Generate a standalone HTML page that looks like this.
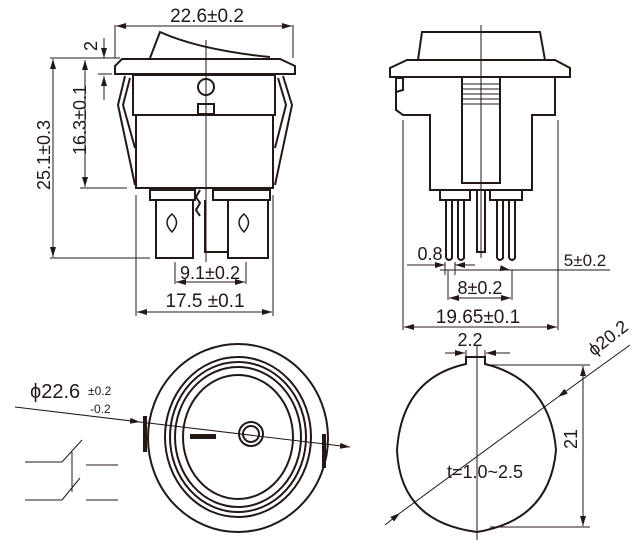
<!DOCTYPE html>
<html><head><style>
body{margin:0;background:#fff}
svg{display:block}
text{font-family:"Liberation Sans",sans-serif;fill:#231815}
</style></head><body>
<svg width="643" height="542" viewBox="0 0 643 542" xmlns="http://www.w3.org/2000/svg">
<defs>
<marker id="a" viewBox="0 0 10 6" refX="10" refY="3" markerWidth="10" markerHeight="6" orient="auto-start-reverse" markerUnits="userSpaceOnUse"><path d="M0,0L10,3L0,6z" fill="#231815"/></marker>
</defs>
<g stroke="#231815" fill="none" stroke-width="1">
<line x1="115" y1="25" x2="115" y2="58"/><line x1="293" y1="25" x2="293" y2="58"/>
<line x1="116" y1="26" x2="292" y2="26" marker-start="url(#a)" marker-end="url(#a)"/>
<line x1="206" y1="40" x2="206" y2="262"/>
<g stroke-width="2">
<path d="M150,58 L160,32 Q200,50 270,57"/>
<path d="M122,59 L280,59 L295,66 L295,74 L115,74 L115,66 Z"/>
<rect x="133" y="75" width="142" height="40"/>
<rect x="136" y="115" width="137" height="73"/>
<path d="M125,76 L118,105 L135,185 M130,78 L123,105 L135,148"/>
<path d="M283,76 L292,105 L275,185 M278,78 L286,105 L275,148"/>
<circle cx="206" cy="87" r="8"/>
<rect x="198" y="104" width="16" height="10"/>
<rect x="150" y="190" width="45" height="10"/>
<rect x="213" y="190" width="57" height="10"/>
<path d="M156,200 L156,258 L193,258 L193,200"/>
<path d="M205,200 L205,252 L228,252"/>
<path d="M228,200 L228,258 L268,258 L268,200"/>
<path d="M200,190 L196,197 L200,203 L196,210 L200,216"/>
<path d="M172,232 Q162,222 172,214 Q181,222 172,232 Z" stroke-width="1.5"/>
<path d="M244,232 Q234,222 244,214 Q253,222 244,232 Z" stroke-width="1.5"/>
</g>
<line x1="104" y1="38" x2="104" y2="58" marker-end="url(#a)"/>
<line x1="104" y1="100" x2="104" y2="76" marker-end="url(#a)"/>
<line x1="98" y1="74" x2="112" y2="74"/>
<line x1="50" y1="58" x2="120" y2="58"/>
<line x1="80" y1="188" x2="127" y2="188"/>
<line x1="50" y1="258" x2="150" y2="258"/>
<line x1="85" y1="60" x2="85" y2="187" marker-start="url(#a)" marker-end="url(#a)"/>
<line x1="53" y1="59" x2="53" y2="257" marker-start="url(#a)" marker-end="url(#a)"/>
<line x1="175" y1="262" x2="175" y2="284"/><line x1="246" y1="262" x2="246" y2="284"/>
<line x1="176" y1="282" x2="245" y2="282" marker-start="url(#a)" marker-end="url(#a)"/>
<line x1="136" y1="195" x2="136" y2="316"/><line x1="273" y1="195" x2="273" y2="316"/>
<line x1="137" y1="312" x2="272" y2="312" marker-start="url(#a)" marker-end="url(#a)"/>
<line x1="481" y1="25" x2="481" y2="258"/>
<g stroke-width="2">
<path d="M418,60 L422,32 L540,32 L545,60"/>
<path d="M407,60 L555,60 L570,68 L570,77 L390,77 L390,68 Z"/>
<path d="M396,77 L396,110 L403,115 L430,115 L430,190 L532,190 L532,115 L555,115 L555,77"/>
<path d="M396,78 L403,78 L403,90 L396,92"/>
<rect x="462" y="77" width="38" height="106"/>
<rect x="440" y="190" width="30" height="10"/>
<rect x="490" y="190" width="32" height="10"/>
<path d="M446,200 V258 M452,200 V258 Q449,262 446,258 M458,200 V258 M464,200 V258 Q461,262 458,258"/>
<path d="M497,200 V258 M503,200 V258 Q500,262 497,258 M509,200 V258 M515,200 V258 Q512,262 509,258"/>
<path d="M477,190 V252 H485 V190"/>
</g>
<path d="M462,84H500M462,89H500M462,94H500M462,99H500M462,104H500"/>
<line x1="403" y1="120" x2="403" y2="330"/><line x1="558" y1="120" x2="558" y2="330"/>
<line x1="404" y1="327" x2="557" y2="327" marker-start="url(#a)" marker-end="url(#a)"/>
<line x1="407" y1="265" x2="445" y2="265" marker-end="url(#a)"/>
<line x1="475" y1="265" x2="455" y2="265" marker-end="url(#a)"/>
<line x1="445" y1="262" x2="445" y2="275"/><line x1="455" y1="262" x2="455" y2="275"/>
<line x1="440" y1="270" x2="610" y2="270"/>
<line x1="500" y1="268" x2="510" y2="270" marker-end="url(#a)"/>
<line x1="448" y1="270" x2="448" y2="300"/><line x1="512" y1="270" x2="512" y2="300"/>
<line x1="449" y1="298" x2="511" y2="298" marker-start="url(#a)" marker-end="url(#a)"/>
<line x1="25" y1="462" x2="62" y2="462"/><line x1="62" y1="462" x2="82" y2="440"/>
<line x1="25" y1="500" x2="62" y2="500"/><line x1="62" y1="500" x2="80" y2="478"/>
<line x1="72" y1="452" x2="72" y2="492"/>
<line x1="86" y1="465" x2="118" y2="465"/><line x1="86" y1="500" x2="118" y2="500"/>
<line x1="15" y1="407" x2="140" y2="422" marker-end="url(#a)"/>
<line x1="140" y1="422" x2="350" y2="447" marker-end="url(#a)"/>
<g stroke-width="2">
<ellipse cx="238" cy="438" rx="90" ry="94"/>
<ellipse cx="238" cy="437" rx="73" ry="80"/>
<ellipse cx="238" cy="437" rx="68" ry="75"/>
<ellipse cx="238" cy="437" rx="63" ry="70"/>
<ellipse cx="238" cy="437" rx="55" ry="62"/>
<circle cx="251" cy="434" r="12"/>
<circle cx="251" cy="434" r="8"/>
</g>
<rect x="190" y="434" width="26" height="5" fill="#231815" stroke="none"/>
<rect x="143" y="416" width="4" height="36" fill="#231815" stroke="none"/>
<rect x="322" y="434" width="4" height="34" fill="#231815" stroke="none"/>
<path d="M466,364 L466,357 L485,357 L485,364 Q550,380 556,450 Q550,520 477,532 Q400,522 397,450 Q402,378 466,364 Z" stroke-width="2"/>
<line x1="477" y1="345" x2="477" y2="540"/>
<line x1="445" y1="353" x2="465" y2="353" marker-end="url(#a)"/>
<line x1="510" y1="353" x2="486" y2="353" marker-end="url(#a)"/>
<line x1="466" y1="350" x2="466" y2="360"/><line x1="485" y1="350" x2="485" y2="360"/>
<line x1="385" y1="525" x2="400" y2="513" marker-end="url(#a)"/>
<line x1="630" y1="345" x2="558" y2="397" marker-end="url(#a)"/>
<line x1="400" y1="513" x2="558" y2="397"/>
<line x1="490" y1="365" x2="590" y2="365"/><line x1="490" y1="527" x2="590" y2="527"/>
<line x1="583" y1="366" x2="583" y2="526" marker-start="url(#a)" marker-end="url(#a)"/>
</g>
<text x="207" y="22" font-size="19" text-anchor="middle">22.6±0.2</text>
<text x="97" y="46" font-size="18" text-anchor="middle" transform="rotate(-90 97 46)">2</text>
<text x="80" y="126" font-size="18" text-anchor="middle" transform="rotate(-90 80 120)">16.3±0.1</text>
<text x="44" y="161" font-size="18" text-anchor="middle" transform="rotate(-90 44 155)">25.1±0.3</text>
<text x="210" y="279" font-size="18" text-anchor="middle">9.1±0.2</text>
<text x="205" y="307" font-size="19" text-anchor="middle">17.5 ±0.1</text>
<text x="430" y="260" font-size="18" text-anchor="middle">0.8</text>
<text x="585" y="266" font-size="17" text-anchor="middle">5±0.2</text>
<text x="480" y="294" font-size="18" text-anchor="middle">8±0.2</text>
<text x="478" y="323" font-size="19" text-anchor="middle">19.65±0.1</text>
<text x="30" y="398" font-size="20">ϕ22.6</text>
<text x="88" y="395" font-size="12">±0.2</text>
<text x="90" y="413" font-size="12">-0.2</text>
<text x="470" y="346" font-size="18" text-anchor="middle">2.2</text>
<text x="608" y="344" font-size="18" text-anchor="middle" transform="rotate(-38 608 338)">ϕ20.2</text>
<text x="577" y="451" font-size="18" text-anchor="middle" transform="rotate(-90 571 445)">21</text>
<text x="447" y="478" font-size="18">t=1.0~2.5</text>
</svg>
</body></html>
